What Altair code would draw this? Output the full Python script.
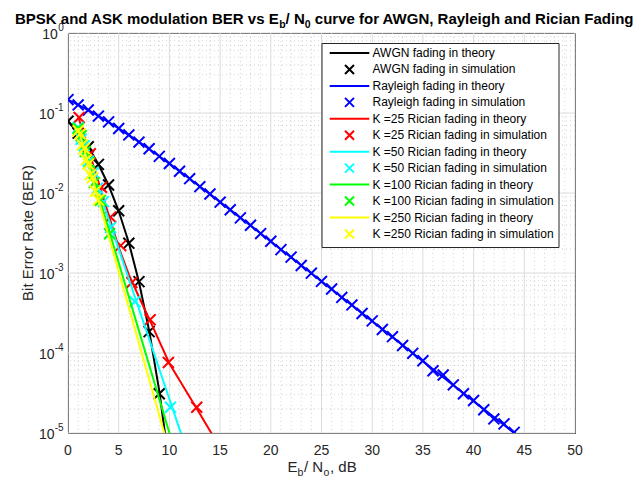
import altair as alt
import pandas as pd

# ---------------- data ----------------
awgn_th_x = [0, 1, 2, 3, 4, 5, 6, 7, 8, 9, 10]
awgn_th = [0.0786, 0.0563, 0.0375, 0.0229, 0.0125, 0.00595, 0.00239, 0.000773,
           0.000191, 0.0000336, 0.00000387]
awgn_sim_x = [0, 1, 2, 3, 4, 5, 6, 7, 8, 9]
awgn_sim = [0.0790, 0.0560, 0.0378, 0.0228, 0.0126, 0.00600, 0.00236, 0.00078,
            0.000185, 0.000031]

ray_th_x = list(range(0, 46))
ray_th = [0.1464, 0.1267, 0.1085, 0.0919, 0.0771, 0.0642, 0.0530, 0.0435, 0.0355,
          0.0288, 0.0233, 0.01875, 0.01506, 0.01208, 0.00967, 0.00772, 0.00616,
          0.00491, 0.00392, 0.00312, 0.00248, 0.00197, 0.00157, 0.00125, 0.000992,
          0.000789, 0.000627, 0.000498, 0.000396, 0.000315, 0.000250, 0.000199,
          0.000158, 0.000126, 0.0000995, 0.0000791, 0.0000628, 0.0000499,
          0.0000396, 0.0000315, 0.0000250, 0.0000199, 0.0000158, 0.0000126,
          0.0000100, 0.0000079]
ray_sim_x = list(range(0, 45))
ray_sim = [0.1470, 0.1262, 0.1090, 0.0915, 0.0775, 0.0640, 0.0532, 0.0433, 0.0357,
           0.0287, 0.0234, 0.0187, 0.0151, 0.0120, 0.00970, 0.00768, 0.00618,
           0.00489, 0.00395, 0.00311, 0.00249, 0.00196, 0.00158, 0.00124, 0.000995,
           0.000785, 0.000630, 0.000495, 0.000399, 0.000312, 0.000252, 0.000197,
           0.000160, 0.000124, 0.0000990, 0.0000800, 0.0000600, 0.0000530,
           0.0000400, 0.0000310, 0.0000255, 0.0000195, 0.0000150, 0.0000130,
           0.0000102]

k25_th_x = [1, 2, 3, 4, 5, 6, 7, 8, 9, 10, 11, 12, 13, 14, 15]
k25_th = [0.091, 0.0355, 0.0138, 0.00537, 0.00209, 0.000955, 0.000501, 0.000269,
          0.000141, 0.0000741, 0.0000457, 0.0000282, 0.0000174, 0.0000107, 0.0000066]
k25_sim_x = [1.1, 2.2, 3.3, 4.2, 5.2, 6.3, 8.1, 9.9, 12.7]
k25_sim = [0.088, 0.031, 0.0118, 0.0050, 0.0022, 0.00076, 0.00026, 0.000076, 0.000021]

k50_th_x = [1, 2, 3, 4, 5, 6, 7, 8, 9, 10, 11, 12]
k50_th = [0.0631, 0.0266, 0.0112, 0.00473, 0.00200, 0.000841, 0.000355, 0.000150,
          0.0000631, 0.0000266, 0.0000112, 0.00000473]
k50_sim_x = [1.0, 1.3, 1.6, 2.0, 2.5, 2.9, 3.5, 4.2, 6.6, 10.1]
k50_sim = [0.066, 0.047, 0.039, 0.025, 0.018, 0.0115, 0.0078, 0.0037, 0.00044, 0.000021]

k100_th_x = [1, 2, 3, 4, 5, 6, 7, 8, 9, 10, 11]
k100_th = [0.0676, 0.0254, 0.00953, 0.00357, 0.00134, 0.000504, 0.000189, 0.0000710,
           0.0000267, 0.0000100, 0.0000038]
k100_sim_x = [1.0, 1.3, 1.7, 2.1, 2.6, 3.2, 4.1]
k100_sim = [0.064, 0.052, 0.033, 0.024, 0.0135, 0.0081, 0.0031]

k250_th_x = [1, 2, 3, 4, 5, 6, 7, 8, 9, 10]
k250_th = [0.065, 0.0231, 0.00824, 0.00293, 0.00104, 0.000372, 0.000132, 0.0000471,
           0.0000167, 0.00000597]
k250_sim_x = [1.0, 1.2, 1.4, 1.6, 1.8, 2.0, 2.2, 2.4, 2.7, 3.0]
k250_sim = [0.060, 0.055, 0.040, 0.036, 0.026, 0.023, 0.017, 0.0155, 0.0105, 0.0082]

series_names = [
    "AWGN fading in theory", "AWGN fading in simulation",
    "Rayleigh fading in theory", "Rayleigh fading in simulation",
    "K =25 Rician fading in theory", "K =25 Rician fading in simulation",
    "K =50 Rician fading in theory", "K =50 Rician fading in simulation",
    "K =100 Rician fading in theory", "K =100 Rician fading in simulation",
    "K =250 Rician fading in theory", "K =250 Rician fading in simulation",
]
series_colors = ["#000000", "#000000", "#0000ff", "#0000ff", "#ff0000", "#ff0000",
                 "#00ffff", "#00ffff", "#00ff00", "#00ff00", "#ffff00", "#ffff00"]

x_ticks = [0, 5, 10, 15, 20, 25, 30, 35, 40, 45, 50]
x_tick_labels = ["0", "5", "10", "15", "20", "25", "30", "35", "40", "45", "50"]
y_ticks = [1, 0.1, 0.01, 0.001, 0.0001, 0.00001]
y_tick_exp = ["0", "-1", "-2", "-3", "-4", "-5"]
x_minor = [v for v in range(0, 51) if v % 5 != 0]
y_minor = [m * 10.0 ** e for e in range(-5, 0) for m in range(2, 10)]

# ---------------- build table ----------------
series_xy = [
    (awgn_th_x, awgn_th), (awgn_sim_x, awgn_sim),
    (ray_th_x, ray_th), (ray_sim_x, ray_sim),
    (k25_th_x, k25_th), (k25_sim_x, k25_sim),
    (k50_th_x, k50_th), (k50_sim_x, k50_sim),
    (k100_th_x, k100_th), (k100_sim_x, k100_sim),
    (k250_th_x, k250_th), (k250_sim_x, k250_sim),
]
rows = []
for name, (xs, ys) in zip(series_names, series_xy):
    for a, b in zip(xs, ys):
        rows.append({"series": name, "snr": a, "ber": b})
df = pd.DataFrame(rows)

LINE_PATH = "M-4.4,0L4.4,0"
X_PATH = "M-1,-1L1,1M-1,1L1,-1"
series_shapes = [LINE_PATH if i % 2 == 0 else X_PATH for i in range(12)]

W, H = 507, 400
FONT = "Liberation Sans"
TXT = "#262626"

xscale = alt.Scale(domain=[0, 50], nice=False, zero=False)
yscale = alt.Scale(type="log", domain=[1e-5, 1], nice=False)

legend = alt.Legend(
    title=None, orient="none", legendX=253.5, legendY=10, direction="vertical",
    fillColor="white", strokeColor=TXT, padding=4, cornerRadius=0,
    labelFont=FONT, labelFontSize=12, labelColor="#000000", labelLimit=400,
    symbolSize=81, symbolStrokeWidth=2, symbolOffset=18, labelOffset=17,
    rowPadding=1.45,
)
color_enc = alt.Color("series:N", scale=alt.Scale(domain=series_names, range=series_colors),
                      legend=legend)
shape_enc = alt.Shape("series:N", scale=alt.Scale(domain=series_names, range=series_shapes),
                      legend=legend)

layers = []
# minor grids (dotted)
layers.append(alt.Chart(pd.DataFrame({"v": x_minor})).mark_rule(
    color="#c8c8c8", strokeDash=[1, 3], strokeWidth=0.8).encode(
    x=alt.X("v:Q", scale=xscale, axis=None)))
layers.append(alt.Chart(pd.DataFrame({"v": y_minor})).mark_rule(
    color="#c8c8c8", strokeDash=[1, 3], strokeWidth=0.8).encode(
    y=alt.Y("v:Q", scale=yscale, axis=None)))
# major grids (solid, light)
layers.append(alt.Chart(pd.DataFrame({"v": x_ticks})).mark_rule(
    color="#dcdcdc", strokeWidth=1).encode(
    x=alt.X("v:Q", scale=xscale, axis=None)))
layers.append(alt.Chart(pd.DataFrame({"v": y_ticks})).mark_rule(
    color="#dcdcdc", strokeWidth=1).encode(
    y=alt.Y("v:Q", scale=yscale, axis=None)))

for i in range(6):
    th, sim = series_names[2 * i], series_names[2 * i + 1]
    layers.append(alt.Chart(df).transform_filter(alt.datum.series == th).mark_line(
        strokeWidth=2, clip=True).encode(
        x=alt.X("snr:Q", scale=xscale, axis=None),
        y=alt.Y("ber:Q", scale=yscale, axis=None),
        color=color_enc))
    layers.append(alt.Chart(df).transform_filter(alt.datum.series == sim).mark_point(
        filled=False, size=120, strokeWidth=2, opacity=1, clip=True).encode(
        x=alt.X("snr:Q", scale=xscale, axis=None),
        y=alt.Y("ber:Q", scale=yscale, axis=None),
        color=color_enc, shape=shape_enc))

# x tick labels
xtick_df = pd.DataFrame({"v": x_ticks, "t": x_tick_labels})
layers.append(alt.Chart(xtick_df).mark_text(
    align="center", baseline="middle", font=FONT, fontSize=14, color=TXT).encode(
    x=alt.X("v:Q", scale=xscale, axis=None), y=alt.value(H + 18), text="t:N"))

# y tick labels: 10 with superscript exponent
ytick_df = pd.DataFrame({"v": y_ticks, "e": y_tick_exp})
layers.append(alt.Chart(ytick_df).transform_filter(alt.datum.e != "0").mark_text(
    text="10", align="right", baseline="middle", dy=2, font=FONT, fontSize=14,
    color=TXT).encode(x=alt.value(-13.5), y=alt.Y("v:Q", scale=yscale, axis=None)))
layers.append(alt.Chart(ytick_df).transform_filter(alt.datum.e == "0").mark_text(
    text="10", align="right", baseline="middle", dy=2, font=FONT, fontSize=14,
    color=TXT).encode(x=alt.value(-10.2), y=alt.Y("v:Q", scale=yscale, axis=None)))
layers.append(alt.Chart(ytick_df).mark_text(
    align="right", baseline="middle", dy=-5, font=FONT, fontSize=10,
    color=TXT).encode(x=alt.value(-4.3), y=alt.Y("v:Q", scale=yscale, axis=None),
                      text="e:N"))

# y-axis title
layers.append(alt.Chart(pd.DataFrame({"t": ["Bit Error Rate (BER)"]})).mark_text(
    align="center", baseline="middle", angle=270, font=FONT, fontSize=15,
    color=TXT).encode(x=alt.value(-40), y=alt.value(H / 2), text="t:N"))

# title and x-axis title pieces (with subscripts)
title_parts = ["BPSK and ASK modulation BER vs E", "b", "/ N", "0",
               "curve for AWGN, Rayleigh and Rician Fading"]
title_x = [-53, 211.2, 217.6, 236.8, 246.8]
title_sub = [False, True, False, True, False]
for t, px, sub in zip(title_parts, title_x, title_sub):
    layers.append(alt.Chart(pd.DataFrame({"t": [t]})).mark_text(
        align="left", baseline="alphabetic", font=FONT, fontWeight="bold",
        fontSize=10.5 if sub else 15, color="#000000").encode(
        x=alt.value(px), y=alt.value(-5 if sub else -9), text="t:N"))

xlab_parts = ["E", "b", "/ N", "o", ", dB"]
xlab_x = [219.5, 229.5, 236, 255.5, 262]
xlab_sub = [False, True, False, True, False]
for t, px, sub in zip(xlab_parts, xlab_x, xlab_sub):
    layers.append(alt.Chart(pd.DataFrame({"t": [t]})).mark_text(
        align="left", baseline="alphabetic", font=FONT,
        fontSize=10.5 if sub else 15, color=TXT).encode(
        x=alt.value(px), y=alt.value(H + 39 if not sub else H + 43), text="t:N"))

chart = alt.layer(*layers).properties(
    width=W, height=H,
    padding={"left": 60, "top": 25, "right": 60, "bottom": 48},
    autosize=alt.AutoSizeParams(type="none"),
    background="white",
).configure_view(stroke=TXT, strokeWidth=1)

chart.save("out.html", embed_options={"renderer": "svg", "actions": False})
